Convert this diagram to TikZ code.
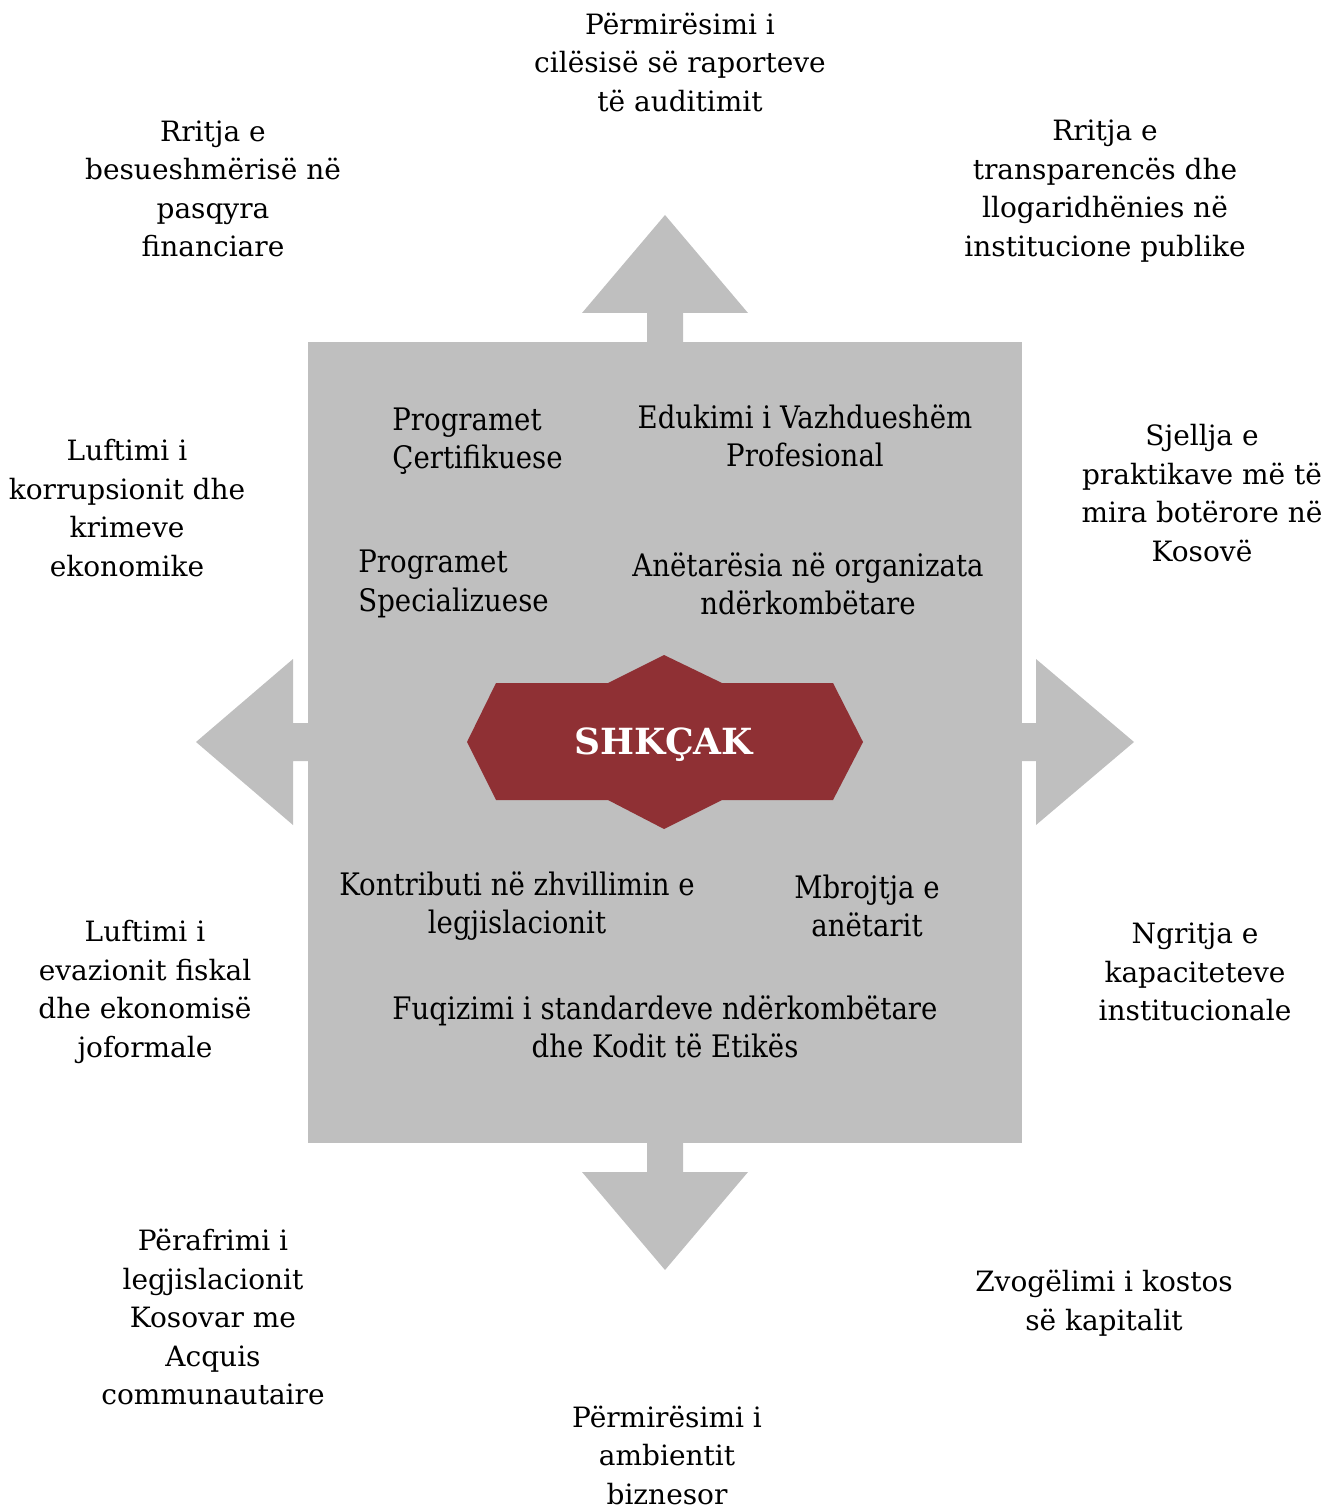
\documentclass[tikz,border=0pt]{standalone}
\usepackage{fontspec}
\setmainfont{DejaVu Serif}
\newfontfamily\narrowfont[FakeStretch=0.89]{DejaVu Serif}
\definecolor{boxgray}{RGB}{191,191,191}
\definecolor{hexred}{RGB}{143,48,52}
\tikzset{
  outer/.style={align=center, inner sep=0pt, font=\fontsize{14}{19.25}\selectfont},
  inner/.style={inner sep=0pt, font=\narrowfont\fontsize{15.5}{19.25}\selectfont},
}
\begin{document}
\begin{tikzpicture}[x=0.5pt, y=-0.5pt]
\useasboundingbox (0,0) rectangle (1336,1507);

% the four arrows and the box
\fill[boxgray] (647,342) -- (647,313) -- (582,313) -- (665,215) -- (748,313) -- (683,313) -- (683,342) -- cycle;
\fill[boxgray] (647,1143) -- (647,1172) -- (582,1172) -- (665,1270) -- (748,1172) -- (683,1172) -- (683,1143) -- cycle;
\fill[boxgray] (308,723) -- (293,723) -- (293,659) -- (196,742) -- (293,825) -- (293,761) -- (308,761) -- cycle;
\fill[boxgray] (1022,723) -- (1036,723) -- (1036,659) -- (1134,742) -- (1036,825) -- (1036,761) -- (1022,761) -- cycle;
\fill[boxgray] (308,342) rectangle (1022,1143);

% centre
\fill[hexred] (664,655) -- (722,683) -- (833,683) -- (863,742) -- (833,800) -- (722,800)
  -- (664,829) -- (608,800) -- (496,800) -- (467,742) -- (496,683) -- (608,683) -- cycle;
\node[inner sep=0pt, text=white, font=\bfseries\fontsize{18}{22}\selectfont] (c) at (664,745) {SHKÇAK};

% inside the box
\node[inner, align=left, anchor=west] (i1) at (392,441) {Programet\\Çertifikuese};
\node[inner, align=center] (i2) at (805,436) {Edukimi i Vazhdueshëm\\Profesional};
\node[inner, align=left, anchor=west] (i3) at (358,584) {Programet\\Specializuese};
\node[inner, align=center] (i4) at (808,584) {Anëtarësia në organizata\\ndërkombëtare};
\node[inner, align=center] (i5) at (517,906) {Kontributi në zhvillimin e\\legjislacionit};
\node[inner, align=center] (i6) at (867,906) {Mbrojtja e\\anëtarit};
\node[inner, align=center] (i7) at (665,1027) {Fuqizimi i standardeve ndërkombëtare\\dhe Kodit të Etikës};

% outside
\node[outer] (o1) at (680,62) {Përmirësimi i\\cilësisë së raporteve\\të auditimit};
\node[outer] (o2) at (213,189) {Rritja e\\besueshmërisë në\\pasqyra\\financiare};
\node[outer] (o3) at (1105,191) {Rritja e\\transparencës dhe\\llogaridhënies në\\institucione publike};
\node[outer] (o4) at (127,508) {Luftimi i\\korrupsionit dhe\\krimeve\\ekonomike};
\node[outer] (o5) at (1202,493) {Sjellja e\\praktikave më të\\mira botërore në\\Kosovë};
\node[outer] (o6) at (145,992) {Luftimi i\\evazionit fiskal\\dhe ekonomisë\\joformale};
\node[outer] (o7) at (1195,972) {Ngritja e\\kapaciteteve\\institucionale};
\node[outer] (o8) at (213,1317) {Përafrimi i\\legjislacionit\\Kosovar me\\Acquis\\communautaire};
\node[outer] (o9) at (1104,1303) {Zvogëlimi i kostos\\së kapitalit};
\node[outer] (o10) at (667,1455) {Përmirësimi i\\ambientit\\biznesor};
\end{tikzpicture}
\end{document}
